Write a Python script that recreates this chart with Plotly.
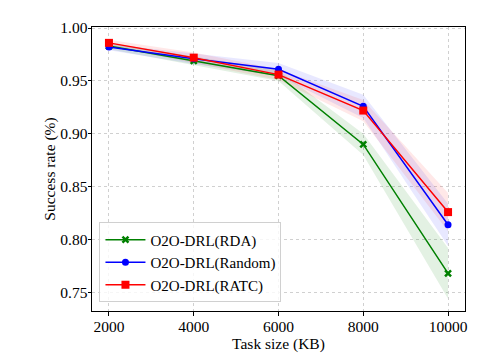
import plotly.graph_objects as go

task_sizes = [2000, 4000, 6000, 8000, 10000]
rda = [0.983, 0.969, 0.955, 0.890, 0.768]
rda_err = [0.003, 0.004, 0.005, 0.010, 0.024]
random_ = [0.982, 0.971, 0.961, 0.926, 0.814]
random_err = [0.003, 0.005, 0.006, 0.011, 0.020]
ratc = [0.986, 0.972, 0.956, 0.922, 0.826]
ratc_err = [0.003, 0.005, 0.005, 0.010, 0.018]

series = [
    ("O2O-DRL(RDA)", rda, rda_err, "green", "rgba(0,128,0,0.11)", "x-thin", 6),
    ("O2O-DRL(Random)", random_, random_err, "blue", "rgba(0,0,255,0.09)", "circle", 7),
    ("O2O-DRL(RATC)", ratc, ratc_err, "red", "rgba(255,0,0,0.09)", "square", 8),
]

FONT = "Liberation Serif, Times New Roman, serif"

fig = go.Figure()
for name, vals, err, col, fill, sym, sz in series:
    upper = [v + e for v, e in zip(vals, err)]
    lower = [v - e for v, e in zip(vals, err)]
    fig.add_trace(go.Scatter(x=task_sizes + task_sizes[::-1], y=upper + lower[::-1],
                             mode="lines", fill="toself", fillcolor=fill, line=dict(width=0),
                             hoverinfo="skip", showlegend=False))
for name, vals, err, col, fill, sym, sz in series:
    marker = dict(symbol=sym, size=sz, color=col)
    if sym == "x-thin":
        marker["line"] = dict(width=2.5, color=col)
    fig.add_trace(go.Scatter(x=task_sizes, y=vals, mode="lines+markers", name=name,
                             line=dict(color=col, width=1.5), marker=marker))

axis_common = dict(showline=True, linecolor="black", linewidth=1, mirror=True,
                   showgrid=True, gridcolor="#d0d0d0", griddash="dot", gridwidth=1,
                   ticks="outside", ticklen=3.5, tickcolor="black", zeroline=False,
                   automargin=False,
                   tickfont=dict(family=FONT, size=15.5, color="black"))

fig.update_layout(
    width=487, height=348,
    margin=dict(l=84, r=30, t=19, b=45),
    plot_bgcolor="white", paper_bgcolor="white",
    font=dict(family=FONT, color="black"),
    xaxis=dict(range=[1600, 10400], tickvals=task_sizes,
               ticktext=[str(v) for v in task_sizes], ticklabelstandoff=-2,
               title=dict(text="Task size (KB)", font=dict(family=FONT, size=15.5), standoff=0),
               **axis_common),
    yaxis=dict(range=[0.7325, 1.001], tickvals=[0.75, 0.80, 0.85, 0.90, 0.95, 1.00],
               tickformat=".2f", ticklabelstandoff=-3,
               title=dict(text="Success rate (%)", font=dict(family=FONT, size=15.5), standoff=0),
               **axis_common),
    legend=dict(x=0.02, y=0.03, xanchor="left", yanchor="bottom",
                bgcolor="rgba(255,255,255,0.8)", bordercolor="#d0d0d0", borderwidth=1,
                font=dict(family=FONT, size=15), itemwidth=40,
                tracegroupgap=0),
)

fig.write_html("out.html")
